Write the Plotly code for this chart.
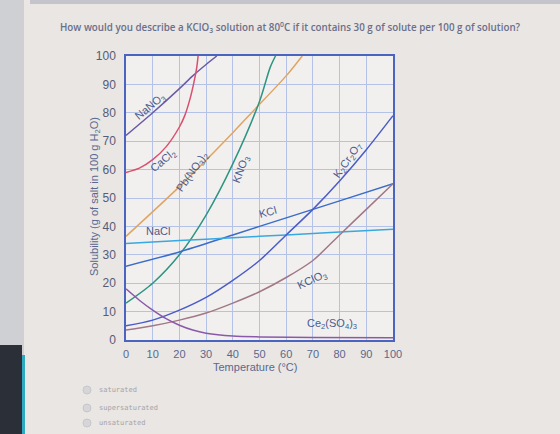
import plotly.graph_objects as go

# ---------------- data ----------------
nano3_t = [0, 10, 20, 25, 30, 34]
nano3_s = [72, 80, 88.5, 93, 97, 100]

cacl2_t = [0, 5, 10, 15, 20, 22, 24, 25.5, 26.5, 27]
cacl2_s = [59, 60.5, 63.5, 68, 75, 79, 85, 91, 96, 100]

pbno3_t = [0, 20, 40, 48, 60, 66]
pbno3_s = [36.5, 54, 73, 81, 93, 100]

kno3_t = [0, 10, 20, 30, 40, 50, 54, 56]
kno3_s = [13, 20, 30, 44, 62, 84, 96, 100]

kcl_t = [0, 20, 40, 60, 80, 100]
kcl_s = [26, 31, 37, 43, 49, 55]

nacl_t = [0, 20, 40, 60, 80, 100]
nacl_s = [34, 35, 36, 37, 38, 39]

k2cr2o7_t = [0, 10, 20, 30, 40, 50, 60, 70, 80, 90, 100]
k2cr2o7_s = [5, 7, 10.5, 15, 21, 28, 37, 46, 56, 67, 79]

kclo3_t = [0, 10, 20, 30, 40, 50, 60, 70, 80, 90, 100]
kclo3_s = [3.5, 5, 7, 9.5, 13, 17, 22, 28, 37, 46, 55]

ce2so43_t = [0, 5, 10, 15, 20, 25, 30, 40, 50, 70, 100]
ce2so43_s = [18, 14, 10.5, 7.5, 5.2, 3.5, 2.4, 1.4, 1.1, 0.9, 0.8]

x_ticks = [0, 10, 20, 30, 40, 50, 60, 70, 80, 90, 100]
y_ticks = [0, 10, 20, 30, 40, 50, 60, 70, 80, 90, 100]

series = [
    ("NaNO3", nano3_t, nano3_s, "#6b5aa6"),
    ("CaCl2", cacl2_t, cacl2_s, "#d8506e"),
    ("Pb(NO3)2", pbno3_t, pbno3_s, "#e0a462"),
    ("KNO3", kno3_t, kno3_s, "#2e9482"),
    ("KCl", kcl_t, kcl_s, "#3a6cc8"),
    ("NaCl", nacl_t, nacl_s, "#38a8e0"),
    ("K2Cr2O7", k2cr2o7_t, k2cr2o7_s, "#4a5cc8"),
    ("KClO3", kclo3_t, kclo3_s, "#a07888"),
    ("Ce2(SO4)3", ce2so43_t, ce2so43_s, "#8a5aa8"),
]

# curve labels: (text, x, y, angle)
labels = [
    ("NaNO<sub>3</sub>", 9, 82, -40),
    ("CaCl<sub>2</sub>", 14, 63, -40),
    ("Pb(NO<sub>3</sub>)<sub>2</sub>", 25, 59, -55),
    ("KNO<sub>3</sub>", 43, 60, -70),
    ("K<sub>2</sub>Cr<sub>2</sub>O<sub>7</sub>", 83, 63, -55),
    ("KCl", 53, 45, -15),
    ("NaCl", 12, 38.5, 0),
    ("KClO<sub>3</sub>", 70, 21, -25),
    ("Ce<sub>2</sub>(SO<sub>4</sub>)<sub>3</sub>", 77, 5.5, 0),
]

# ---------------- figure ----------------
W, H = 560, 434
L, R, T, B = 126, 393, 56, 340

def px(x):
    return (x - L) / (R - L)

def py(y):
    return (B - y) / (B - T)

fig = go.Figure()
for name, t, s, c in series:
    fig.add_trace(go.Scatter(x=t, y=s, mode="lines", name=name,
                             line=dict(color=c, width=1.5, shape="spline", smoothing=0.8),
                             hoverinfo="skip", showlegend=False))

ann = []
for text, x, y, ang in labels:
    ann.append(dict(x=x, y=y, xref="x", yref="y", text=text, showarrow=False,
                    textangle=ang, xanchor="center", yanchor="middle",
                    font=dict(family="Liberation Sans", size=11, color="#4c5a8c")))

ann.append(dict(x=px(95), y=py(197), xref="paper", yref="paper",
                xanchor="center", yanchor="middle",
                text="Solubility (g of salt in 100 g H<sub>2</sub>O)", showarrow=False,
                textangle=-90, font=dict(family="Liberation Sans", size=11, color="#5a6890")))
ann.append(dict(x=px(255), y=py(367), xref="paper", yref="paper",
                xanchor="center", yanchor="middle",
                text="Temperature (°C)", showarrow=False,
                font=dict(family="Liberation Sans", size=11, color="#5a6890")))
ann.append(dict(x=px(58), y=py(27), xref="paper", yref="paper", xanchor="left", yanchor="middle",
                text="How would you describe a KClO<sub>3</sub> solution at 80<sup>0</sup>C if it contains 30 g of solute per 100 g of solution?",
                showarrow=False,
                font=dict(family="Open Sans", size=9.8, color="#6a6f8a", weight=600)))
options = [("saturated", 390), ("supersaturated", 408), ("unsaturated", 423)]
shapes = []
for text, yy in options:
    ann.append(dict(x=px(97), y=py(yy), xref="paper", yref="paper", xanchor="left", yanchor="middle",
                    text=text, showarrow=False,
                    font=dict(family="DejaVu Sans Mono", size=7, color="#a4a4a8")))
    shapes.append(dict(type="circle", xref="paper", yref="paper",
                       x0=px(83), x1=px(91), y0=py(yy - 4), y1=py(yy + 4),
                       fillcolor="#d6d6d8", line=dict(color="#c8c8cc", width=1)))

# photo frame elements
shapes += [
    dict(type="rect", xref="paper", yref="paper", x0=px(30), x1=px(560), y0=py(0), y1=py(4),
         fillcolor="#c4c4cc", line=dict(width=0), layer="below"),
    dict(type="rect", xref="paper", yref="paper", x0=px(0), x1=px(22), y0=py(0), y1=py(434),
         fillcolor="#cfd0d4", line=dict(width=0), layer="below"),
    dict(type="rect", xref="paper", yref="paper", x0=px(0), x1=px(22), y0=py(345), y1=py(434),
         fillcolor="#2b2f38", line=dict(width=0), layer="below"),
    dict(type="rect", xref="paper", yref="paper", x0=px(22), x1=px(25), y0=py(355), y1=py(434),
         fillcolor="#30a8c0", line=dict(width=0), layer="below"),
    dict(type="line", xref="paper", yref="paper", x0=px(23), x1=px(23), y0=py(0), y1=py(355),
         line=dict(color="#b8b8c0", width=1), layer="below"),
]

fig.update_layout(
    width=W, height=H,
    margin=dict(l=L, r=W - R, t=T, b=H - B),
    paper_bgcolor="#e9e6e3",
    plot_bgcolor="#f2f0ee",
    annotations=ann,
    shapes=shapes,
    showlegend=False,
)
fig.update_xaxes(range=[0, 100], tickvals=x_ticks, ticks="", showline=True, mirror=True,
                 linecolor="#4a64c0", linewidth=1.5, gridcolor="#b4c2e8", gridwidth=1,
                 zeroline=False, ticklabelstandoff=3,
                 tickfont=dict(family="Liberation Sans", size=11, color="#5a6890"))
fig.update_yaxes(range=[0, 100], tickvals=y_ticks, ticks="", showline=True, mirror=True,
                 linecolor="#4a64c0", linewidth=1.5, gridcolor="#b4c2e8", gridwidth=1,
                 zeroline=False, ticklabelstandoff=6,
                 tickfont=dict(family="Liberation Sans", size=12, color="#555c78"))

fig.write_html("out.html")
